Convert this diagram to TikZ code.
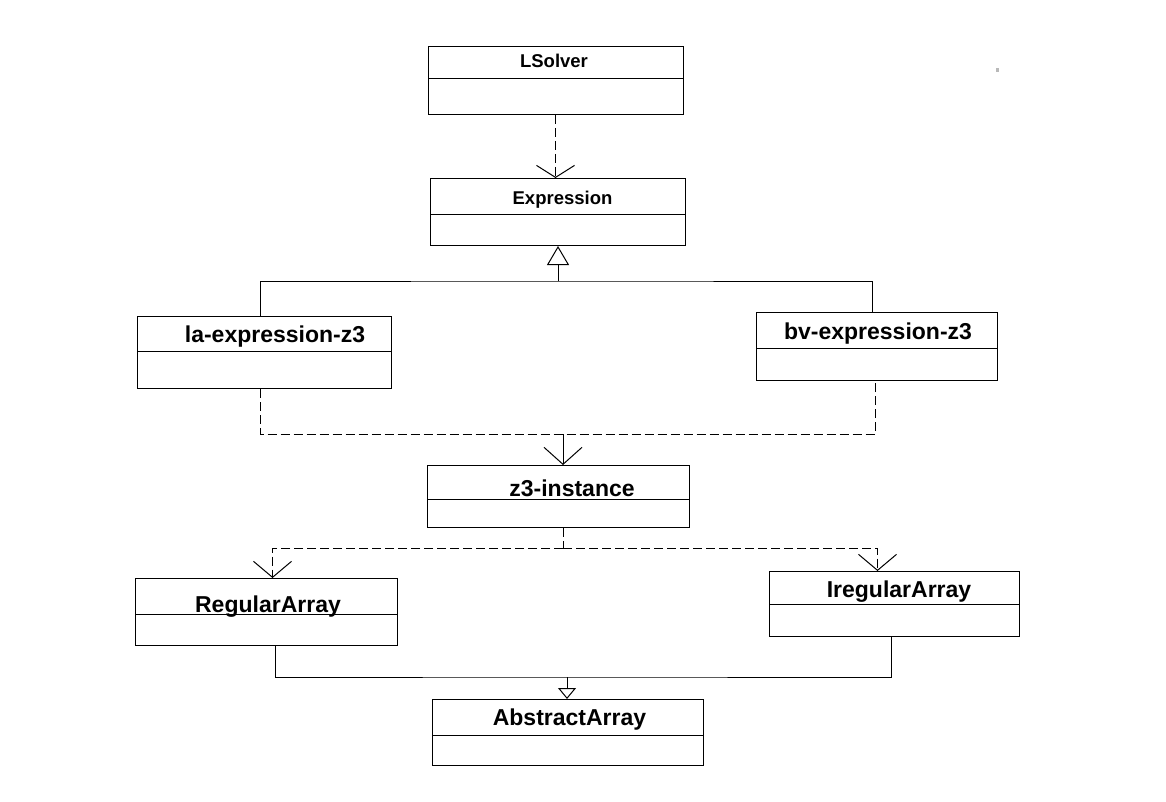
\documentclass[tikz,border=0pt]{standalone}
\usepackage{fontspec}
\setmainfont{Liberation Sans}
\usetikzlibrary{arrows.meta, positioning}

\tikzset{
  classbox/.style={draw, line width=1pt, inner sep=0pt, anchor=north west},
  bigname/.style={font=\fontsize{23}{27}\selectfont\bfseries, anchor=base, inner sep=0pt},
  smallname/.style={font=\fontsize{18.5}{22}\selectfont\bfseries, anchor=base, inner sep=0pt},
  depend/.style={line width=1pt, dash pattern=on 9pt off 4pt},
  inherit/.style={line width=1pt},
  usesarrow/.style={-{Straight Barb[length=#1, width=38pt]}},
  usesarrow/.default=15pt,
  isaarrow/.style={-{Triangle[open, length=19pt, width=22pt]}},
}

\begin{document}
\begin{tikzpicture}[x=1pt, y=-1pt]
    \fill[white] (0,0) rectangle (1166,802);
    \useasboundingbox (0,0) rectangle (1166,802);

    % class boxes
    \node[classbox, minimum width=255pt, minimum height=68pt] (lsolver)    at (428,46)  {};
    \node[classbox, minimum width=255pt, minimum height=67pt] (expression) at (430,178) {};
    \node[classbox, minimum width=254pt, minimum height=72pt] (laexpr)     at (137,316) {};
    \node[classbox, minimum width=241pt, minimum height=68pt] (bvexpr)     at (756,312) {};
    \node[classbox, minimum width=262pt, minimum height=62pt] (zinst)      at (427,465) {};
    \node[classbox, minimum width=262pt, minimum height=67pt] (regarray)   at (135,578) {};
    \node[classbox, minimum width=250pt, minimum height=65pt] (iregarray)  at (769,571) {};
    \node[classbox, minimum width=271pt, minimum height=66pt] (abstract)   at (432,699) {};

    \foreach \c/\d in {lsolver/33, expression/37, laexpr/35, bvexpr/36,
                       zinst/34, regarray/36, iregarray/33, abstract/36}
        \draw[inherit] ([yshift=-\d pt]\c.north west) -- ([yshift=-\d pt]\c.north east);

    % class names
    \node[smallname] (lsolver-name)    at (554,68)    {LSolver};
    \node[smallname] (expression-name) at (562.5,205) {Expression};
    \node[bigname]   (laexpr-name)     at (275,342)   {la-expression-z3};
    \node[bigname]   (bvexpr-name)     at (878,339)   {bv-expression-z3};
    \node[bigname]   (zinst-name)      at (572,496)   {z3-instance};
    \node[bigname]   (regarray-name)   at (268,612)   {RegularArray};
    \node[bigname]   (iregarray-name)  at (899,597)   {IregularArray};
    \node[bigname]   (abstract-name)   at (569.5,725) {AbstractArray};

    % joints
    \coordinate (exp-join) at (558,281);
    \coordinate (z3-join)  at (563,434);
    \coordinate (arr-join) at (563,548);
    \coordinate (abs-join) at (567,677);

    % connectors
    \draw[depend, usesarrow=12pt] ([xshift=-0.5pt]lsolver.south) -- ([xshift=-0.5pt]lsolver.south |- expression.north);

    \draw[inherit, isaarrow] (exp-join) -- (exp-join |- expression.south);
    \draw[inherit] ([xshift=-4pt]laexpr.north) |- (exp-join) -| ([xshift=-5pt]bvexpr.north);

    \draw[depend] ([xshift=-4pt]laexpr.south) |- ([xshift=-1.5pt]bvexpr.south |- z3-join) -- ([xshift=-1.5pt]bvexpr.south);
    \draw[inherit, usesarrow=17pt] (z3-join) -- (z3-join |- zinst.north);

    \draw[depend] (arr-join |- zinst.south) -- (arr-join);
    \draw[depend, usesarrow=16pt] (arr-join) -| ([xshift=6pt]regarray.north);
    \draw[depend, usesarrow=16pt] (arr-join) -| ([xshift=-17pt]iregarray.north);

    \draw[inherit] ([xshift=9pt]regarray.south) |- (abs-join) -| ([xshift=-3pt]iregarray.south);
    \draw[inherit, -{Triangle[open, length=11pt, width=18pt]}] (abs-join) -- (abs-join |- abstract.north);

    \fill[gray!55] (996,68) rectangle (999,72);
\end{tikzpicture}
\end{document}
